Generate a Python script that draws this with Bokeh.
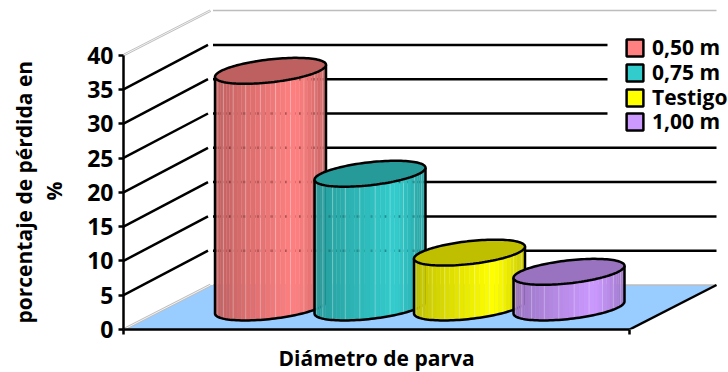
import numpy as np
from bokeh.embed import file_html
from bokeh.models import ColumnDataSource, FixedTicker, Legend, LegendItem, LinearAxis, Range1d, Title
from bokeh.plotting import figure
from bokeh.resources import INLINE

# Loss percentage per stack diameter
categories = ["0,50 m", "0,75 m", "Testigo", "1,00 m"]
values = [34.5, 19.5, 8.0, 5.2]
face_colors = ["#FF8080", "#33CCCC", "#FFFF00", "#CC99FF"]
y_ticks = [0, 5, 10, 15, 20, 25, 30, 35, 40]
y_title_lines = ["%", "porcentaje de pérdida en"]
x_title = "Diámetro de parva"

FONT = "Open Sans"
W, H = 728, 372
LEFT, BOTTOM = 123, 43
PX_PER_UNIT = 6.86          # vertical pixels per percentage point
AXIS_LEN = 506              # front floor edge length
DEPTH_X, DEPTH_Y = 87, 44.5 # oblique depth of the 3D box
BACK_GAP = 2.5

def dv(px):
    return px / PX_PER_UNIT

p = figure(width=W, height=H, output_backend="svg", toolbar_location=None,
           x_axis_type=None, y_axis_type=None, min_border_left=LEFT, min_border_bottom=BOTTOM,
           min_border_top=0, min_border_right=0, outline_line_color=None,
           x_range=Range1d(0, W - LEFT), y_range=Range1d(0, (H - BOTTOM) / PX_PER_UNIT))
p.grid.visible = False

# Floor of the box
p.patch([0, DEPTH_X, AXIS_LEN + DEPTH_X, AXIS_LEN], [0, dv(DEPTH_Y), dv(DEPTH_Y), 0],
        fill_color="#99CCFF", line_color=None)

# Back-wall and side-wall grid lines
top_tick, bottom_tick = max(y_ticks), min(y_ticks)
for v in y_ticks:
    back = v + dv(DEPTH_Y)
    if v in (top_tick, bottom_tick):
        p.line([0, DEPTH_X], [v, back], line_color="#BDBDBD", line_width=2.6)
        p.line([0, DEPTH_X], [v, back], line_color="#FFFFFF", line_width=0.8)
        p.line([DEPTH_X + BACK_GAP, AXIS_LEN + DEPTH_X], [back, back], line_color="#BDBDBD", line_width=1.5)
    else:
        p.line([0, DEPTH_X - BACK_GAP], [v, back], line_color="black", line_width=2.5)
        p.line([DEPTH_X + BACK_GAP, AXIS_LEN + DEPTH_X], [back, back], line_color="black", line_width=2.5)

# Right floor edge
p.line([AXIS_LEN, AXIS_LEN + DEPTH_X], [0, dv(DEPTH_Y)], line_color="black", line_width=2.5)

# Cylinder geometry: sheared ellipse for the caps
FIRST_CX, STEP_CX = 147, 99.5
RX, SHEAR, RY = 55.5, 6.0, 11.5
BASE = dv(329 - 307)
N_STRIPS = 34


def shade(u):
    # brightness across the visible front of a cylinder
    if u < 0.72:
        return 0.75 + 0.25 * (u / 0.72) ** 0.9
    return 1.0 - 0.22 * ((u - 0.72) / 0.28) ** 1.2


def tint(hex_color, k):
    r, g, b = (int(hex_color[i:i + 2], 16) for i in (1, 3, 5))
    return "#%02X%02X%02X" % (round(r * k), round(g * k), round(b * k))


def cap(cx, level, t):
    return cx - RX * np.cos(t), level - dv(SHEAR * np.cos(t) + RY * np.sin(t))


for i, (val, col) in enumerate(zip(values, face_colors)):
    cx = FIRST_CX + i * STEP_CX
    top = BASE + val

    # Side surface as vertical strips
    ts = np.linspace(0, np.pi, N_STRIPS + 1)
    xs, ys, fills = [], [], []
    for a, b in zip(ts[:-1], ts[1:]):
        arc = np.linspace(a, b, 5)
        x0, y0 = cap(cx, BASE, arc)
        x1, y1 = cap(cx, top, arc[::-1])
        xs.append(np.r_[x0, x1])
        ys.append(np.r_[y0, y1])
        u = (-np.cos((a + b) / 2) + 1) / 2
        fills.append(tint(col, shade(u)))
    p.patches(xs, ys, fill_color=fills, line_color=fills, line_width=0.3)

    # Light seams between facets
    seams = ts[3::3]
    p.segment(cap(cx, BASE, seams)[0], cap(cx, BASE, seams)[1],
              cap(cx, top, seams)[0], cap(cx, top, seams)[1],
              line_color="#FFFFFF", line_alpha=0.28, line_width=1)

    # Back-wall grid lines faintly showing through the surface
    for v in y_ticks[1:-1]:
        back = v + dv(DEPTH_Y)
        if BASE + dv(8) < back < top - dv(6):
            p.line([cx - RX, cx + RX], [back, back], line_color="black", line_alpha=0.22,
                   line_width=2.5, line_dash="2 12")

    # Outline of side and base
    arc = np.linspace(0, np.pi, 60)
    bx, by = cap(cx, BASE, arc)
    p.line(np.r_[cx - RX, bx, cx + RX], np.r_[top - dv(SHEAR), by, top + dv(SHEAR)],
           line_color="black", line_width=2.5, line_join="round")

    # Top cap, darker than the side
    full = np.linspace(0, 2 * np.pi, 120)
    tx, ty = cap(cx, top, full)
    p.patch(tx, ty, fill_color=tint(col, 0.75), line_color="black", line_width=2.5)

# Axes
yaxis = LinearAxis(ticker=FixedTicker(ticks=y_ticks), bounds=(bottom_tick, top_tick),
                   axis_line_color="black", axis_line_width=2.5,
                   major_tick_line_color="black", major_tick_line_width=2.5,
                   major_tick_in=0, major_tick_out=5, minor_tick_line_color=None,
                   major_label_text_font=FONT, major_label_text_font_style="bold",
                   major_label_text_font_size="23px", major_label_text_color="black",
                   major_label_standoff=5)
p.add_layout(yaxis, "left")

xaxis = LinearAxis(ticker=FixedTicker(ticks=[0, AXIS_LEN]), bounds=(0, AXIS_LEN),
                   axis_line_color="black", axis_line_width=2.5,
                   major_tick_line_color="black", major_tick_line_width=2.5,
                   major_tick_in=0, major_tick_out=5, minor_tick_line_color=None,
                   major_label_overrides={0: "", AXIS_LEN: ""})
p.add_layout(xaxis, "below")

# Axis titles, started from a distance so they sit centred on each axis
title_style = dict(text_font=FONT, text_font_style="bold", text_font_size="21px", text_color="black",
                   align="left")
p.add_layout(Title(text=" ", text_font_size="1px", standoff=14), "left")
p.add_layout(Title(text=y_title_lines[0], offset=129, standoff=0, **title_style), "left")
p.add_layout(Title(text=y_title_lines[1], offset=6, standoff=0, **title_style), "left")
p.add_layout(Title(text=" ", text_font_size="1px", standoff=4), "below")
p.add_layout(Title(text=x_title, offset=155, standoff=0, **title_style), "below")

# White panel behind the legend, over the ends of the upper grid lines
p.quad(left=[484], right=[W - LEFT], bottom=[dv(329 - 135)], top=[dv(329 - 30)],
       fill_color="white", line_color=None)

# Legend entries, each placed on its own row
FIRST_ROW, ROW_PITCH = 46.5, 24.6
swatches = ColumnDataSource(dict(x=[np.nan], y=[np.nan]))
for i, (name, col) in enumerate(zip(categories, face_colors)):
    r = p.quad(left="x", right="x", bottom="y", top="y", source=swatches,
               fill_color=col, line_color="black", line_width=2.5)
    row_bottom = FIRST_ROW + i * ROW_PITCH + 15
    entry = Legend(items=[LegendItem(label=name, renderers=[r])],
                   location=(501, round(329 - row_bottom)), margin=0, padding=2, spacing=0,
                   glyph_width=21, glyph_height=21, label_standoff=7, label_height=17,
                   label_text_font=FONT, label_text_font_style="bold", label_text_font_size="21px",
                   label_text_color="black", border_line_color=None, background_fill_alpha=0)
    p.add_layout(entry, "center")

open("out.html", "w").write(file_html(p, INLINE))
